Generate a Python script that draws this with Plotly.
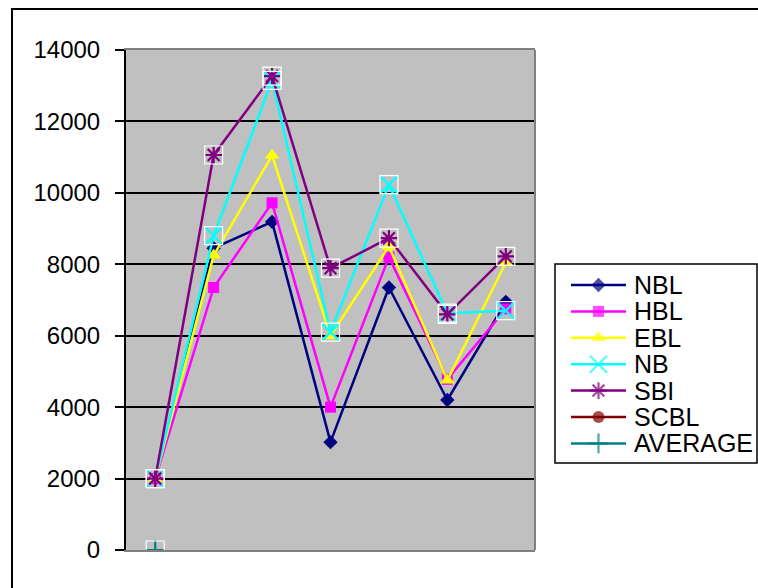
import plotly.graph_objects as go

# Seven observation points along the category axis
points = [1, 2, 3, 4, 5, 6, 7]

series_names = ["NBL", "HBL", "EBL", "NB", "SBI", "SCBL", "AVERAGE"]
NBL = [2000, 8450, 9190, 3020, 7350, 4200, 6950]
HBL = [2000, 7350, 9720, 4000, 8200, 4780, 6750]
EBL = [2000, 8250, 11050, 6000, 8500, 4750, 8050]
NB = [2000, 8800, 13150, 6100, 10230, 6630, 6700]
SBI = [2000, 11060, 13270, 7890, 8730, 6600, 8220]
SCBL = [None, None, None, None, None, None, None]
AVERAGE = [0, None, None, None, None, None, None]

y_ticks = [0, 2000, 4000, 6000, 8000, 10000, 12000, 14000]

values = [NBL, HBL, EBL, NB, SBI, SCBL, AVERAGE]
colors = ["#000080", "#FF00FF", "#FFFF00", "#00FFFF", "#800080", "#800000", "#008080"]
symbols = ["diamond", "square", "triangle-up", "x-thin", "asterisk", "circle", "cross-thin"]
sizes = [11, 11, 13, 17, 14, 12, 14]
line_symbol = [False, False, False, True, True, False, True]
# series drawn with white selection handles around each marker
handled = ["NB", "SBI", "AVERAGE"]

W, H = 758, 588
FONT = "Arial, Liberation Sans, sans-serif"

# pixel boxes of the plot area and of the legend
px_l, px_r, px_t, px_b = 126, 535, 50, 550
lg_l, lg_r, lg_t, lg_b = 555, 757, 264, 463


def marker_for(i, size):
    if line_symbol[i]:
        return dict(symbol=symbols[i], size=size, color=colors[i],
                    line=dict(color=colors[i], width=2.2))
    return dict(symbol=symbols[i], size=size, color=colors[i],
                line=dict(width=0))


fig = go.Figure()

for i, name in enumerate(series_names):
    fig.add_trace(go.Scatter(
        x=points, y=values[i], name=name, mode="lines+markers",
        line=dict(color=colors[i], width=2.5),
        marker=marker_for(i, sizes[i]),
        showlegend=False, xaxis="x", yaxis="y",
    ))

# selection handles
for i, name in enumerate(series_names):
    if name in handled:
        fig.add_trace(go.Scatter(
            x=points, y=values[i], mode="markers",
            marker=dict(symbol="square-open", size=18,
                        color="white", line=dict(color="white", width=1.2)),
            showlegend=False, hoverinfo="skip", xaxis="x", yaxis="y",
        ))

# legend drawn on its own pixel-scaled axes
row0, row_step = 21, 26.4
annotations = []
for i, name in enumerate(series_names):
    ry = row0 + row_step * i
    fig.add_trace(go.Scatter(
        x=[16, 43.5, 71], y=[ry, ry, ry], mode="lines+markers",
        line=dict(color=colors[i], width=2.5),
        marker=dict(
            symbol=symbols[i], size=[0, sizes[i], 0], color=colors[i],
            line=dict(color=colors[i], width=2.2 if line_symbol[i] else 0)),
        showlegend=False, hoverinfo="skip", xaxis="x2", yaxis="y2",
    ))
    annotations.append(dict(
        x=77, y=ry, xref="x2", yref="y2", text=name, showarrow=False,
        xanchor="left", yanchor="middle",
        font=dict(family=FONT, size=25, color="black"),
    ))

shapes = [
    # outer chart frame
    dict(type="rect", xref="paper", yref="paper",
         x0=12 / W, x1=1.02, y0=-0.05, y1=(H - 9) / H,
         line=dict(color="black", width=2), fillcolor="rgba(0,0,0,0)",
         layer="below"),
    # plot area fill
    dict(type="rect", xref="x domain", yref="y domain", x0=0, x1=1, y0=0, y1=1,
         line=dict(width=0), fillcolor="#C0C0C0", layer="below"),
    # right edge of the plot area
    dict(type="line", xref="x domain", yref="y domain", x0=1, x1=1, y0=0, y1=1,
         line=dict(color="#808080", width=2), layer="above"),
    # legend box
    dict(type="rect", xref="paper", yref="paper",
         x0=lg_l / W, x1=lg_r / W, y0=(H - lg_b) / H, y1=(H - lg_t) / H,
         line=dict(color="black", width=1.5), fillcolor="white", layer="below"),
]

fig.update_layout(
    width=W, height=H,
    margin=dict(l=0, r=0, t=0, b=0),
    paper_bgcolor="white",
    plot_bgcolor="white",
    font=dict(family=FONT, size=24, color="black"),
    showlegend=False,
    xaxis=dict(
        domain=[px_l / W, px_r / W], range=[0.5, 7.5],
        showticklabels=False, showgrid=False, zeroline=False, ticks="",
        showline=True, linecolor="#808080", linewidth=2, mirror=True,
        layer="below traces", fixedrange=True,
    ),
    yaxis=dict(
        domain=[(H - px_b) / H, (H - px_t) / H], range=[0, 14000],
        tickvals=y_ticks, ticktext=[str(v) for v in y_ticks],
        ticks="outside", ticklen=9, tickwidth=2, tickcolor="black",
        ticklabelstandoff=10,
        showline=True, linecolor="black", linewidth=2,
        showgrid=True, gridcolor="black", gridwidth=2,
        zeroline=False, automargin=False,
        tickfont=dict(family=FONT, size=24, color="black"),
    ),
    xaxis2=dict(
        domain=[lg_l / W, lg_r / W], range=[0, lg_r - lg_l],
        visible=False, fixedrange=True, anchor="y2",
    ),
    yaxis2=dict(
        domain=[(H - lg_b) / H, (H - lg_t) / H], range=[lg_b - lg_t, 0],
        visible=False, fixedrange=True, anchor="x2",
    ),
    shapes=shapes,
    annotations=annotations,
)

fig.write_html("out.html")
